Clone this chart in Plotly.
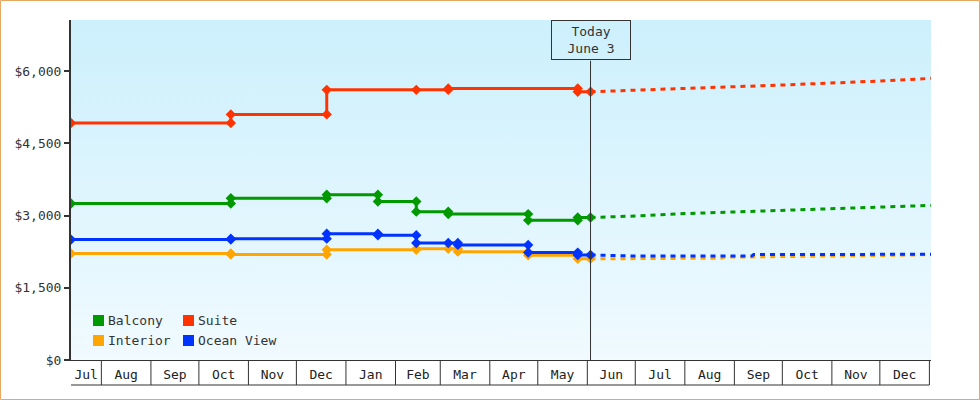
import base64
import pandas as pd
import plotly.graph_objects as go

# ---------------- data ----------------
TODAY = "2025-06-03"
RANGE_START = "2024-07-13"
RANGE_END = "2026-01-02"

month_labels = ["Jul", "Aug", "Sep", "Oct", "Nov", "Dec", "Jan", "Feb", "Mar",
                "Apr", "May", "Jun", "Jul", "Aug", "Sep", "Oct", "Nov", "Dec"]

y_ticks = [0, 1500, 3000, 4500, 6000]
y_tick_labels = ["$0", "$1,500", "$3,000", "$4,500", "$6,000"]

# observed prices (steps are encoded as two points on the same date)
suite_dates = ["2024-07-13", "2024-10-21", "2024-10-21", "2024-12-20", "2024-12-20",
               "2025-02-14", "2025-03-06", "2025-03-06", "2025-05-26", "2025-05-26", "2025-06-03"]
suite_prices = [4920, 4920, 5100, 5100, 5610, 5610, 5610, 5640, 5640, 5570, 5570]

balcony_dates = ["2024-07-13", "2024-10-21", "2024-10-21", "2024-12-20", "2024-12-20",
                 "2025-01-21", "2025-01-21", "2025-02-14", "2025-02-14", "2025-03-06",
                 "2025-03-06", "2025-04-25", "2025-04-25", "2025-05-26", "2025-05-26", "2025-06-03"]
balcony_prices = [3250, 3250, 3360, 3360, 3430, 3430, 3290, 3290, 3080, 3080,
                  3030, 3030, 2900, 2900, 2960, 2960]

ocean_dates = ["2024-07-13", "2024-10-21", "2024-10-21", "2024-12-20", "2024-12-20",
               "2025-01-21", "2025-01-21", "2025-02-14", "2025-02-14", "2025-03-06",
               "2025-03-12", "2025-03-12", "2025-04-25", "2025-04-25", "2025-05-26",
               "2025-05-26", "2025-06-03"]
ocean_prices = [2500, 2500, 2520, 2520, 2620, 2620, 2590, 2590, 2430, 2430,
                2430, 2390, 2390, 2230, 2230, 2180, 2180]

interior_dates = ["2024-07-13", "2024-10-21", "2024-10-21", "2024-12-20", "2024-12-20",
                  "2025-02-14", "2025-02-14", "2025-03-06", "2025-03-12", "2025-03-12",
                  "2025-04-25", "2025-04-25", "2025-05-26", "2025-05-26", "2025-06-03"]
interior_prices = [2210, 2210, 2190, 2190, 2290, 2290, 2310, 2310, 2310, 2250,
                   2250, 2175, 2175, 2100, 2100]

# forecast prices
suite_fc_dates = ["2025-06-03", "2025-07-01", "2025-08-01", "2025-09-01", "2025-10-01",
                  "2025-11-01", "2025-12-01", "2026-01-02"]
suite_fc_prices = [5570, 5607, 5638, 5675, 5710, 5746, 5793, 5849]

balcony_fc_dates = ["2025-06-03", "2025-07-01", "2025-08-01", "2025-09-01", "2025-10-01",
                    "2025-11-01", "2025-12-01", "2026-01-02"]
balcony_fc_prices = [2960, 2990, 3040, 3075, 3105, 3150, 3185, 3210]

ocean_fc_dates = ["2025-06-03", "2025-07-01", "2025-08-01", "2025-09-12", "2025-09-13",
                  "2025-10-01", "2025-11-01", "2025-12-01", "2026-01-02"]
ocean_fc_prices = [2180, 2160, 2160, 2162, 2190, 2190, 2192, 2194, 2195]

interior_fc_dates = ["2025-06-03", "2025-07-01", "2025-08-01", "2025-08-24", "2025-08-25",
                     "2025-10-09", "2025-10-10", "2025-12-01", "2026-01-02"]
interior_fc_prices = [2100, 2108, 2112, 2115, 2135, 2140, 2152, 2170, 2188]

legend_names = ["Balcony", "Suite", "Interior", "Ocean View"]

COLORS = {"Balcony": "#009900", "Suite": "#ff3300",
          "Interior": "#ffa500", "Ocean View": "#0033ff"}

# ---------------- layout constants ----------------
W, H = 980, 400
ML, MR, MT, MB = 71, 49, 20, 40
PW, PH = W - ML - MR, H - MT - MB
FONT = "DejaVu Sans Mono"
INK = "#333333"


def px(x):
    return (x - ML) / PW


def py(y):
    return (MT + PH - y) / PH


fig = go.Figure()

# gradient plot background
svg = ('<svg xmlns="http://www.w3.org/2000/svg" width="100" height="100" viewBox="0 0 100 100" '
       'preserveAspectRatio="none"><defs><linearGradient id="g" x1="0" y1="0" x2="0" y2="1">'
       '<stop offset="0" stop-color="#ccf0fc"/><stop offset="1" stop-color="#f0faff"/>'
       '</linearGradient></defs><rect width="100" height="100" fill="url(#g)"/></svg>')
src = "data:image/svg+xml;base64," + base64.b64encode(svg.encode()).decode()
fig.add_layout_image(source=src, xref="paper", yref="paper", x=0, y=1, sizex=1, sizey=1,
                     sizing="stretch", layer="below", xanchor="left", yanchor="top")

forecasts = [("Interior", interior_fc_dates, interior_fc_prices),
             ("Ocean View", ocean_fc_dates, ocean_fc_prices),
             ("Balcony", balcony_fc_dates, balcony_fc_prices),
             ("Suite", suite_fc_dates, suite_fc_prices)]
for name, d, p in forecasts:
    fig.add_trace(go.Scatter(x=d, y=p, mode="lines", showlegend=False, hoverinfo="skip",
                             line=dict(color=COLORS[name], width=3, dash="5px,5px")))

observed = [("Interior", interior_dates, interior_prices),
            ("Ocean View", ocean_dates, ocean_prices),
            ("Balcony", balcony_dates, balcony_prices),
            ("Suite", suite_dates, suite_prices)]
for name, d, p in observed:
    fig.add_trace(go.Scatter(x=d, y=p, mode="lines+markers", name=name, showlegend=False,
                             line=dict(color=COLORS[name], width=3),
                             marker=dict(color=COLORS[name], size=8, symbol="diamond")))

shapes = []
annotations = []

# month cells under the axis
start = pd.Timestamp(RANGE_START)
end = pd.Timestamp(RANGE_END)
month_starts = pd.date_range("2024-07-01", periods=len(month_labels) + 1, freq="MS")
tick_vals = []
cell_bottom = py(MT + PH + 25)
for i in range(len(month_labels)):
    a = max(start, month_starts[i])
    b = min(end, month_starts[i + 1])
    tick_vals.append(a + (b - a) / 2)
    shapes.append(dict(type="line", xref="x", yref="paper", x0=month_starts[i + 1],
                       x1=month_starts[i + 1], y0=0, y1=cell_bottom,
                       line=dict(color=INK, width=1)))
shapes.append(dict(type="line", xref="x", yref="paper", x0=start, x1=month_starts[-1],
                   y0=cell_bottom, y1=cell_bottom, line=dict(color=INK, width=1)))

# today marker line and label
shapes.append(dict(type="line", xref="x", yref="paper", x0=TODAY, x1=TODAY,
                   y0=0, y1=py(60.7), line=dict(color=INK, width=1)))
annotations.append(dict(x=TODAY, xref="x", y=1, yref="paper", yanchor="top",
                        xanchor="center", text="Today<br>June 3", showarrow=False,
                        bordercolor=INK, borderwidth=1, borderpad=0, width=78, height=38,
                        font=dict(family=FONT, size=13, color=INK)))

# legend (2 x 2 grid)
col_x = [93, 183]
row_y = [320.5, 340.5]
for i, name in enumerate(legend_names):
    cx = col_x[i % 2]
    cy = row_y[i // 2]
    shapes.append(dict(type="rect", xref="paper", yref="paper",
                       x0=px(cx), x1=px(cx + 11), y0=py(cy - 5.5), y1=py(cy + 5.5),
                       fillcolor=COLORS[name], line=dict(width=0)))
    annotations.append(dict(x=px(cx + 13), y=py(cy), xref="paper", yref="paper",
                            xanchor="left", yanchor="middle", text=name, showarrow=False,
                            font=dict(family=FONT, size=13, color=INK)))

# outer border
shapes.append(dict(type="rect", xref="paper", yref="paper", x0=px(0.5), x1=px(W - 0.5),
                   y0=py(H - 0.5), y1=py(0.5), line=dict(color="#e8a862", width=1),
                   fillcolor="rgba(0,0,0,0)", layer="above"))

fig.update_layout(
    width=W, height=H,
    margin=dict(l=ML, r=MR, t=MT, b=MB, pad=0),
    paper_bgcolor="white",
    plot_bgcolor="rgba(0,0,0,0)",
    showlegend=False,
    font=dict(family=FONT, size=13, color=INK),
    shapes=shapes,
    annotations=annotations,
    xaxis=dict(type="date", range=[RANGE_START, RANGE_END], showgrid=False, zeroline=False,
               showline=True, linecolor=INK, linewidth=1, ticks="",
               tickvals=tick_vals, ticktext=month_labels, ticklabelstandoff=2,
               tickfont=dict(family=FONT, size=13, color="#222222")),
    yaxis=dict(range=[0, 7060], showgrid=False, zeroline=False, showline=True,
               linecolor=INK, linewidth=2, ticks="outside", ticklen=5, tickwidth=2,
               tickcolor=INK, tickvals=y_ticks, ticktext=y_tick_labels,
               tickfont=dict(family=FONT, size=13, color=INK)),
)

fig.write_html("out.html")
